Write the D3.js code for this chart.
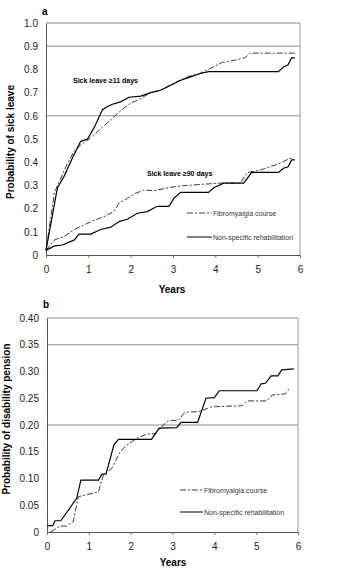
<!DOCTYPE html>
<html><head><meta charset="utf-8">
<script src="https://cdn.jsdelivr.net/npm/d3@7/dist/d3.min.js"></script>
<style>
body{margin:0;background:#fff;}
text{font-family:"Liberation Sans",Arial,sans-serif;}
</style></head>
<body><svg id="c" width="355" height="573"></svg>
<script>
// ---- data ----
const xTicks = [0,1,2,3,4,5,6];
const yTicksA = [0,0.1,0.2,0.3,0.4,0.5,0.6,0.7,0.8,0.9,1.0];
const yLabelsA = ["0","0.1","0.2","0.3","0.4","0.5","0.6","0.7","0.8","0.9","1.0"];
const yTicksB = [0,0.05,0.10,0.15,0.20,0.25,0.30,0.35,0.40];
const yLabelsB = ["0","0.05","0.10","0.15","0.20","0.25","0.30","0.35","0.40"];
const gridA = [0.6,0.9,1.0];
const gridB = [0.20,0.35,0.40];
const seriesNames = ["Fibromyalgia course","Non-specific rehabilitation"];

// panel a: sick leave >=11 days
const fibro11 = [[0,0.02],[0.2,0.27],[0.47,0.38],[0.67,0.45],[0.86,0.48],[1.02,0.50],[1.33,0.55],[1.69,0.61],[1.96,0.65],[2.24,0.675],[2.47,0.70],[2.7,0.71],[2.9,0.73],[3.14,0.75],[3.37,0.77],[3.6,0.78],[3.84,0.80],[4.16,0.83],[4.47,0.84],[4.7,0.85],[4.82,0.87],[5.88,0.87]];
const nonspec11 = [[0,0.02],[0.27,0.29],[0.43,0.34],[0.63,0.42],[0.82,0.49],[0.98,0.50],[1.14,0.55],[1.33,0.625],[1.45,0.64],[1.57,0.65],[1.76,0.66],[1.96,0.68],[2.24,0.685],[2.47,0.70],[2.7,0.71],[2.82,0.72],[3.14,0.75],[3.29,0.76],[3.45,0.77],[3.6,0.78],[3.84,0.79],[5.49,0.79],[5.61,0.81],[5.72,0.82],[5.8,0.85],[5.88,0.85]];
// panel a: sick leave >=90 days
const fibro90 = [[0,0.02],[0.2,0.065],[0.43,0.08],[0.67,0.11],[0.9,0.13],[1.14,0.15],[1.37,0.165],[1.6,0.187],[1.73,0.225],[1.92,0.244],[2.12,0.266],[2.31,0.28],[2.55,0.277],[2.9,0.29],[3.02,0.294],[3.33,0.30],[4.12,0.31],[4.59,0.31],[4.75,0.355],[5.06,0.366],[5.29,0.38],[5.53,0.395],[5.76,0.417],[5.84,0.417]];
const nonspec90 = [[0,0.02],[0.2,0.039],[0.39,0.043],[0.67,0.065],[0.78,0.09],[1.06,0.09],[1.29,0.11],[1.53,0.12],[1.73,0.144],[1.92,0.154],[2.16,0.18],[2.39,0.187],[2.63,0.21],[2.9,0.21],[2.94,0.22],[3.02,0.244],[3.18,0.27],[3.84,0.27],[3.96,0.29],[4.2,0.31],[4.67,0.31],[4.86,0.356],[5.49,0.356],[5.61,0.374],[5.72,0.38],[5.8,0.41],[5.88,0.41]];
// panel b: disability pension
const fibroDP = [[0.09,0],[0.31,0.011],[0.47,0.011],[0.63,0.02],[0.75,0.066],[1.23,0.075],[1.35,0.107],[1.55,0.119],[1.75,0.15],[1.91,0.163],[2.15,0.175],[2.38,0.183],[2.58,0.184],[2.74,0.197],[2.9,0.208],[3.14,0.209],[3.3,0.224],[3.62,0.225],[3.94,0.234],[4.66,0.236],[4.78,0.245],[5.26,0.245],[5.38,0.256],[5.7,0.258],[5.8,0.269]];
const nonspecDP = [[0,0.012],[0.14,0.012],[0.19,0.021],[0.33,0.021],[0.71,0.063],[0.81,0.097],[1.23,0.097],[1.31,0.108],[1.41,0.108],[1.6,0.163],[1.71,0.173],[2.5,0.173],[2.68,0.194],[3.1,0.195],[3.2,0.205],[3.6,0.205],[3.8,0.25],[4.0,0.251],[4.12,0.264],[5.02,0.264],[5.12,0.277],[5.22,0.278],[5.36,0.292],[5.52,0.292],[5.61,0.303],[5.9,0.305]];

// ---- drawing ----
const svg = d3.select("#c");
const DASH = "6,2,2,2";

function panel(cfg){
  const x = d3.scaleLinear().domain([0,6]).range(cfg.xr);
  const y = d3.scaleLinear().domain(cfg.yd).range(cfg.yr);
  const g = svg.append("g");
  // gridlines
  g.selectAll(".grid").data(cfg.grid).enter().append("line")
    .attr("x1",x(0)).attr("x2",x(6)).attr("y1",d=>y(d)).attr("y2",d=>y(d))
    .attr("stroke","#8a8a8a").attr("stroke-width",1);
  // right border
  g.append("line").attr("x1",x(6)).attr("x2",x(6)).attr("y1",y(cfg.yd[1])).attr("y2",y(0))
    .attr("stroke","#9a9a9a");
  // y axis
  const ya = d3.axisLeft(y).tickValues(cfg.yt).tickSize(0).tickPadding(8)
    .tickFormat((d,i)=>cfg.yl[i]);
  const yg = g.append("g").attr("transform",`translate(${x(0)},0)`).call(ya);
  yg.select(".domain").attr("stroke","#555");
  yg.selectAll("text").attr("font-size","10px").attr("fill","#222");
  // x axis
  const xa = d3.axisBottom(x).tickValues(xTicks).tickSize(3).tickPadding(8).tickFormat(d3.format("d"));
  const xg = g.append("g").attr("transform",`translate(0,${y(0)})`).call(xa);
  xg.select(".domain").attr("stroke","#555");
  xg.selectAll("line").attr("stroke","#777");
  xg.selectAll("text").attr("font-size","10px").attr("fill","#222");
  // lines
  const line = d3.line().x(d=>x(d[0])).y(d=>y(d[1]));
  cfg.series.forEach(s=>{
    g.append("path").datum(s.data).attr("d",line).attr("fill","none")
      .attr("stroke",s.dash?"#3a3a3a":"#000").attr("stroke-width",s.dash?1:1.2)
      .attr("stroke-dasharray",s.dash?DASH:null);
  });
  // labels
  g.append("text").attr("x",cfg.letter[0]).attr("y",cfg.letter[1]).text(cfg.letterText)
    .attr("font-size","10px").attr("font-weight","bold");
  g.append("text").attr("x",cfg.xTitle[0]).attr("y",cfg.xTitle[1]).attr("text-anchor","middle")
    .text("Years").attr("font-size","10px").attr("font-weight","bold");
  g.append("text").attr("transform",`translate(${cfg.yTitle[0]},${cfg.yTitle[1]}) rotate(-90)`)
    .attr("text-anchor","middle").text(cfg.yTitleText).attr("font-size","10px").attr("font-weight","bold");
  // legend
  seriesNames.forEach((n,i)=>{
    const ly = cfg.leg[1] + i*cfg.leg[3];
    g.append("line").attr("x1",cfg.leg[0]).attr("x2",cfg.leg[0]+cfg.leg[2]).attr("y1",ly).attr("y2",ly)
      .attr("stroke",i===0?"#3a3a3a":"#000").attr("stroke-width",1)
      .attr("stroke-dasharray",i===0?DASH:null);
    g.append("text").attr("x",cfg.leg[0]+cfg.leg[2]+1).attr("y",ly+2.5).text(n)
      .attr("font-size","7px").attr("fill","#333");
  });
  return {x,y,g};
}

const A = panel({
  xr:[46,300], yd:[0,1], yr:[255,23], yt:yTicksA, yl:yLabelsA, grid:gridA,
  series:[{data:fibro11,dash:true},{data:nonspec11},{data:fibro90,dash:true},{data:nonspec90}],
  letter:[42,15], letterText:"a", xTitle:[172,293], yTitle:[14,142],
  yTitleText:"Probability of sick leave", leg:[187,213,25,24]
});
A.g.append("text").attr("x",73).attr("y",82.5).text("Sick leave ≥11 days")
  .attr("font-size","7px").attr("font-weight","bold");
A.g.append("text").attr("x",147).attr("y",175.5).text("Sick leave ≥90 days")
  .attr("font-size","7px").attr("font-weight","bold");

const B = panel({
  xr:[47,298], yd:[0,0.4], yr:[532,318], yt:yTicksB, yl:yLabelsB, grid:gridB,
  series:[{data:fibroDP,dash:true},{data:nonspecDP}],
  letter:[43,308], letterText:"b", xTitle:[173,566], yTitle:[10,419],
  yTitleText:"Probability of disability pension", leg:[180,490,23,22]
});
</script></body></html>
